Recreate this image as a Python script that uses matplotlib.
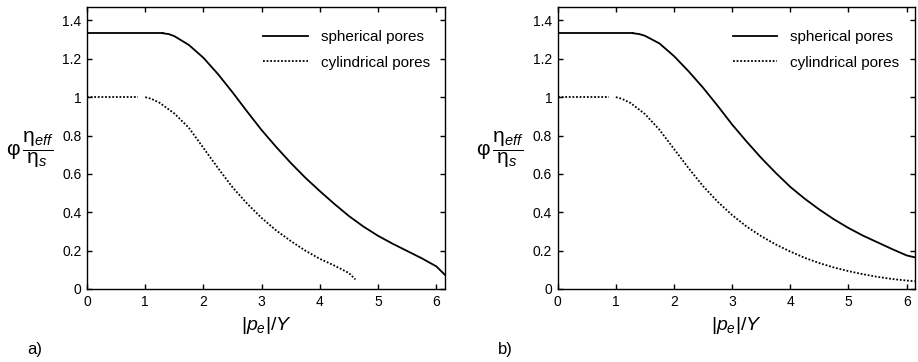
import numpy as np
import matplotlib
matplotlib.use('Agg')
import matplotlib.pyplot as plt

plt.rcParams['font.family'] = 'Liberation Sans'
plt.rcParams['mathtext.fontset'] = 'custom'
plt.rcParams['mathtext.rm'] = 'Liberation Sans'
plt.rcParams['mathtext.it'] = 'Liberation Sans:italic'

# flat parts (plateau before yield)
sph_flat_x = [0.0, 1.3]
sph_flat_y = [1.333, 1.333]
cyl_flat_x = [0.0, 0.88]
cyl_flat_y = [1.0, 1.0]

# panel a)
sph_a_x = [1.3, 1.4, 1.5, 1.75, 2.0, 2.25, 2.5, 2.75, 3.0, 3.25, 3.5, 3.75, 4.0, 4.25,
           4.5, 4.75, 5.0, 5.25, 5.5, 5.75, 6.0, 6.15]
sph_a_y = [1.333, 1.329, 1.318, 1.272, 1.205, 1.12, 1.025, 0.925, 0.828, 0.74, 0.657,
           0.58, 0.51, 0.443, 0.38, 0.325, 0.277, 0.236, 0.198, 0.16, 0.118, 0.073]
cyl_a_x = [1.0, 1.1, 1.25, 1.5, 1.75, 2.0, 2.25, 2.5, 2.75, 3.0, 3.25, 3.5, 3.75, 4.0,
           4.25, 4.5, 4.61]
cyl_a_y = [1.0, 0.992, 0.97, 0.915, 0.84, 0.735, 0.63, 0.53, 0.445, 0.37, 0.305, 0.25,
           0.2, 0.157, 0.122, 0.083, 0.05]

# panel b)
sph_b_x = [1.3, 1.4, 1.5, 1.75, 2.0, 2.25, 2.5, 2.75, 3.0, 3.25, 3.5, 3.75, 4.0, 4.25,
           4.5, 4.75, 5.0, 5.25, 5.5, 5.75, 6.0, 6.14]
sph_b_y = [1.333, 1.329, 1.32, 1.28, 1.214, 1.135, 1.049, 0.955, 0.857, 0.768, 0.683,
           0.605, 0.532, 0.47, 0.414, 0.363, 0.318, 0.278, 0.243, 0.208, 0.175, 0.165]
cyl_b_x = [1.0, 1.1, 1.25, 1.5, 1.75, 2.0, 2.25, 2.5, 2.75, 3.0, 3.25, 3.5, 3.75, 4.0,
           4.25, 4.5, 4.75, 5.0, 5.25, 5.5, 5.75, 6.0, 6.14]
cyl_b_y = [1.0, 0.992, 0.97, 0.912, 0.83, 0.73, 0.63, 0.536, 0.455, 0.385, 0.325, 0.275,
           0.232, 0.195, 0.162, 0.135, 0.112, 0.093, 0.077, 0.063, 0.052, 0.044, 0.04]

xticks = [0, 1, 2, 3, 4, 5, 6]
yticks = [0, 0.2, 0.4, 0.6, 0.8, 1.0, 1.2, 1.4]
yticklabels = ['0', '0.2', '0.4', '0.6', '0.8', '1', '1.2', '1.4']

fig = plt.figure(figsize=(9.18, 3.62), dpi=100)
ax_a = fig.add_axes([0.0948, 0.2017, 0.390, 0.779])
ax_b = fig.add_axes([0.6075, 0.2017, 0.389, 0.779])

panels = [(ax_a, sph_a_x, sph_a_y, cyl_a_x, cyl_a_y, 6.15, 'a)', 0.030, 0.033),
          (ax_b, sph_b_x, sph_b_y, cyl_b_x, cyl_b_y, 6.14, 'b)', 0.542, 0.545)]

ylab = r'$\mathrm{\varphi}\,\dfrac{\mathrm{\eta}_{\mathit{eff}}}{\mathrm{\eta}_{\mathit{s}}}$'

for ax, sx, sy, cx, cy, xmax, tag, tagx, labx in panels:
    ax.plot(sph_flat_x, sph_flat_y, color='black', lw=1.3)
    ax.plot(sx, sy, color='black', lw=1.3, label='spherical pores')
    ax.plot(cyl_flat_x, cyl_flat_y, color='black', lw=1.3, ls=(0, (1, 1)))
    ax.plot(cx, cy, color='black', lw=1.3, ls=(0, (1, 1)), label='cylindrical pores')
    ax.set_xlim(0, xmax)
    ax.set_ylim(0, 1.47)
    ax.set_xticks(xticks)
    ax.set_yticks(yticks)
    ax.set_yticklabels(yticklabels)
    ax.tick_params(direction='in', top=True, right=True, length=3.5, width=1,
                   labelsize=10, pad=4)
    for s in ax.spines.values():
        s.set_linewidth(1.0)
    ax.set_xlabel(r'$|p_e|/Y$', fontsize=14, labelpad=5)
    ax.legend(loc='upper right', bbox_to_anchor=(1.0, 0.972), frameon=False,
              fontsize=11, handlelength=2.9, handletextpad=0.85,
              labelspacing=0.75, borderaxespad=0.6)
    fig.text(tagx, 0.035, tag, fontsize=12, ha='left', va='center')
    fig.text(labx, 0.585, ylab, fontsize=15, ha='center', va='center')

fig.savefig('out.png', dpi=100)
